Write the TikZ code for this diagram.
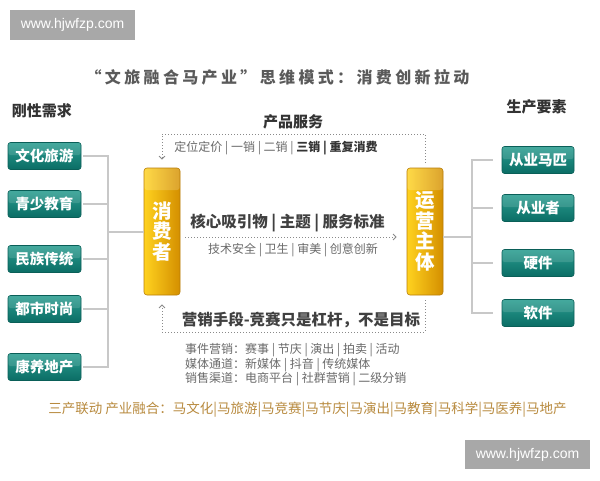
\documentclass[tikz,border=0pt]{standalone}
\usepackage{fontspec}
\setmainfont{Noto Sans CJK SC}
\newfontfamily\wmfont{Liberation Sans}
\newfontfamily\titlefont{Noto Sans CJK SC}[LetterSpace=21]
\usetikzlibrary{arrows.meta,calc}
\definecolor{wmgray}{HTML}{A8A8A8}
\definecolor{titlegray}{HTML}{5A5A5A}
\definecolor{darktxt}{HTML}{333333}
\definecolor{midtxt}{HTML}{404040}
\definecolor{smalltxt}{HTML}{6A6A6A}
\definecolor{goldtxt}{HTML}{B88A3E}
\definecolor{gtop}{HTML}{2A9D90}
\definecolor{gbot}{HTML}{0B6D65}
\definecolor{gedge}{HTML}{0A5F58}
\definecolor{ytop}{HTML}{FFD21F}
\definecolor{ybot}{HTML}{D48F00}
\definecolor{yedge}{HTML}{B97E08}
\definecolor{connline}{HTML}{C8C8C8}
\definecolor{dotline}{HTML}{8A8A8A}
\begin{document}
\begin{tikzpicture}[x=1pt,y=-1pt,
  wm/.style={fill=wmgray,text=white,font=\wmfont\fontsize{14}{14}\selectfont,inner sep=0pt},
  head/.style={font=\bfseries\fontsize{15}{15}\selectfont,text=darktxt,inner sep=0pt},
  midtext/.style={font=\bfseries\fontsize{15.5}{15.5}\selectfont,text=midtxt,inner sep=0pt},
  smalltext/.style={font=\fontsize{12}{13}\selectfont,text=smalltxt,inner sep=0pt},
  goldtext/.style={font=\fontsize{13.5}{13.5}\selectfont,text=goldtxt,inner sep=0pt},
  gbox/.style={rounded corners=2.5pt,draw=gedge,line width=0.6pt,top color=gtop,bottom color=gbot,
    text=white,font=\bfseries\fontsize{14.5}{14.5}\selectfont,minimum width=73pt,minimum height=27pt,inner sep=0pt,
    path picture={\fill[white,opacity=0.13] (path picture bounding box.north west) rectangle ([yshift=1pt]path picture bounding box.east);}},
  ybox/.style={rounded corners=3pt,draw=yedge,line width=0.6pt,left color=ytop,right color=ybot,
    text=white,font=\bfseries\fontsize{19.5}{20.5}\selectfont,minimum width=36pt,minimum height=127pt,inner sep=0pt,align=center,
    path picture={\fill[white,opacity=0.18] (path picture bounding box.north west) rectangle ([yshift=-22pt]path picture bounding box.north east);}},
  conn/.style={draw=connline,line width=1.2pt},
  dotconn/.style={draw=dotline,line width=1pt,dotted},
  tip/.style={-{Straight Barb[length=3pt,width=6pt,line width=0.9pt]}}
]
\useasboundingbox (0,0) rectangle (600,480);
\fill[white] (0,0) rectangle (600,480);

% watermarks
\node[wm,minimum width=125pt,minimum height=30pt] (wm1) at (72.5,25) {www.hjwfzp.com};
\node[wm,minimum width=125pt,minimum height=29pt] (wm2) at (527.5,454.5) {www.hjwfzp.com};

% title and headings
\node[font=\titlefont\bfseries\fontsize{16}{16}\selectfont,text=titlegray,inner sep=0pt] (title) at (277.5,77) {“文旅融合马产业”思维模式：消费创新拉动};
\node[head] (hl) at (42,111) {刚性需求};
\node[head] (hr) at (536.5,107) {生产要素};
\node[head] (hp) at (293,122) {产品服务};

% left boxes
\node[gbox] (l1) at (44.5,156) {文化旅游};
\node[gbox] (l2) at (44.5,204) {青少教育};
\node[gbox] (l3) at (44.5,259) {民族传统};
\node[gbox] (l4) at (44.5,309) {都市时尚};
\node[gbox] (l5) at (44.5,367) {康养地产};

% right boxes
\node[gbox,minimum width=72pt] (r1) at (538,160) {从业马匹};
\node[gbox,minimum width=72pt] (r2) at (538,208) {从业者};
\node[gbox,minimum width=72pt] (r3) at (538,263) {硬件};
\node[gbox,minimum width=72pt] (r4) at (538,313) {软件};

% central boxes
\node[ybox] (cons) at (162,231.5) {消\\费\\者};
\node[ybox] (op) at (425,231.5) {运\\营\\主\\体};

% junctions
\coordinate (lj) at (108,232);
\coordinate (rj) at (472,237);
\coordinate (tc) at (162,134);
\coordinate (bc) at (162,332);

% left connectors
\foreach \b in {l1,l2,l3,l4,l5}{\draw[conn,shorten <=2pt] (\b.east) -| (lj);}
\draw[conn] (lj) -- (lj -| cons.west);
% right connectors
\draw[conn] (rj -| op.east) -- (rj);
\foreach \b in {r1,r2,r3,r4}{\draw[conn,shorten >=9pt] (rj) |- (\b.west);}

% dotted flows
\draw[dotconn,tip,shorten <=5pt,shorten >=8pt] (op.north) |- (tc) -- (cons.north);
\draw[dotconn,tip,shorten <=5pt,shorten >=9pt] (op.south) |- (bc) -- (cons.south);
\draw[dotconn,tip] ([xshift=5pt,yshift=-5.5pt]cons.east) -- ([xshift=-10pt,yshift=-5.5pt]op.west);

% texts
\node[smalltext] (t1) at (276,148) {定位定价 | 一销 | 二销 | {\bfseries\color{darktxt}三销 | 重复消费}};
\node[midtext] (t2) at (287.5,223) {核心吸引物 | 主题 | 服务标准};
\node[smalltext] (t3) at (293,250) {技术安全 | 卫生 | 审美 | 创意创新};
\node[midtext] (t4) at (301,320) {营销手段-竞赛只是杠杆，不是目标};
\node[smalltext,anchor=west,align=left] (t5) at (185,365) {事件营销：赛事 | 节庆 | 演出 | 拍卖 | 活动\\媒体通道：新媒体 | 抖音 | 传统媒体\\销售渠道：电商平台 | 社群营销 | 二级分销};
\node[goldtext] (t6) at (307.5,410) {三产联动 产业融合：马文化|马旅游|马竞赛|马节庆|马演出|马教育|马科学|马医养|马地产};
\end{tikzpicture}
\end{document}
